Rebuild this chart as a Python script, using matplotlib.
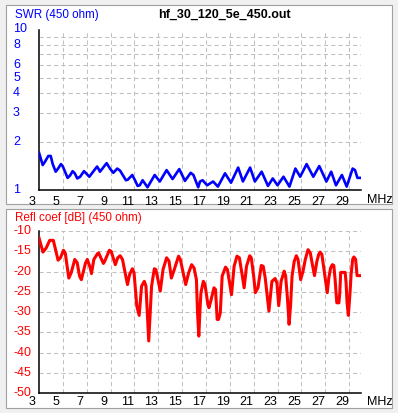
import matplotlib
matplotlib.use("Agg")
import matplotlib.pyplot as plt
from matplotlib.patches import Rectangle
from matplotlib.ticker import NullLocator

W, H = 398, 413

# SWR (450 ohm)
swr_freq = [3.0, 3.31, 3.5, 3.78, 3.98, 4.15, 4.4, 4.6, 4.84, 5.0, 5.4, 5.6, 5.82, 6.0,
            6.21, 6.45, 6.77, 6.95, 7.22, 7.87, 8.0, 8.11, 8.67, 8.95, 9.23, 9.56, 9.8,
            10.29, 10.45, 10.82, 11.05, 11.27, 11.45, 11.69, 12.1, 12.7, 13.13, 13.7,
            14.2, 14.76, 15.24, 15.72, 15.95, 16.35, 16.5, 16.72, 17.1, 17.6, 18.0,
            18.6, 19.1, 19.7, 20.1, 20.7, 21.1, 21.67, 22.2, 22.6, 23.0, 23.5, 24.0,
            24.5, 24.9, 25.44, 26.0, 26.5, 27.1, 27.5, 27.9, 28.4, 28.8, 29.3, 29.5,
            29.7, 29.97]
swr = [1.71, 1.43, 1.50, 1.63, 1.63, 1.45, 1.30, 1.36, 1.45, 1.40, 1.19, 1.23, 1.31, 1.27,
       1.18, 1.21, 1.31, 1.27, 1.21, 1.40, 1.35, 1.30, 1.47, 1.36, 1.28, 1.36, 1.32,
       1.15, 1.16, 1.24, 1.15, 1.06, 1.07, 1.15, 1.04, 1.24, 1.13, 1.33,
       1.17, 1.35, 1.14, 1.28, 1.24, 1.04, 1.13, 1.15, 1.07, 1.13, 1.05,
       1.27, 1.11, 1.38, 1.13, 1.38, 1.13, 1.30, 1.06, 1.18, 1.07, 1.21, 1.05,
       1.36, 1.21, 1.45, 1.21, 1.41, 1.13, 1.30, 1.07, 1.24, 1.05, 1.36, 1.33,
       1.19, 1.19]

# reflection coefficient [dB]
refl_freq = [3.0, 3.33, 3.6, 3.9, 4.2, 4.6, 4.8, 5.05, 5.2, 5.5, 5.7, 6.0, 6.2, 6.4, 6.55,
             6.9, 7.05, 7.3, 7.4, 7.6, 7.9, 8.0, 8.4, 8.5, 8.9, 9.05, 9.4, 9.6, 9.8, 10.0,
             10.2, 10.42, 10.6, 10.83, 10.97, 11.2, 11.4, 11.6, 11.83, 11.97, 12.1, 12.2,
             12.36, 12.44, 12.67, 12.8, 13.0, 13.17, 13.4, 13.7, 13.9, 14.1, 14.3, 14.7,
             14.85, 15.3, 15.55, 15.8, 16.0, 16.2, 16.3, 16.4, 16.5, 16.58, 16.78, 16.92,
             17.14, 17.25, 17.4, 17.67, 17.8, 17.94, 18.05, 18.2, 18.36, 18.64, 18.8,
             19.14, 19.36, 19.6, 19.8, 20.03, 20.2, 20.4, 20.67, 20.8, 21.0, 21.14, 21.36,
             21.64, 21.8, 21.97, 22.28, 22.53, 22.8, 22.95, 23.1, 23.3, 23.56, 23.68,
             23.83, 23.97, 24.1, 24.22, 24.4, 24.58, 24.72, 24.94, 25.14, 25.33, 25.56,
             25.75, 25.9, 26.1, 26.3, 26.45, 26.58, 26.72, 26.9, 27.03, 27.17, 27.3,
             27.45, 27.6, 27.72, 27.83, 27.97, 28.15, 28.22, 28.3, 28.67, 28.75, 28.83,
             28.94, 29.08, 29.17, 29.3, 29.4, 29.55, 29.67, 29.97]
refl_db = [-11.7, -15.2, -14.2, -12.3, -12.3, -17.2, -16.6, -14.75, -15.4, -21.6, -20.3,
           -17.0, -17.8, -21.1, -22.0, -17.9, -17.0, -19.1, -20.5, -17.0, -15.6, -15.4,
           -18.0, -17.5, -14.75, -15.0, -18.3, -16.6, -16.1, -17.0, -19.9, -23.2, -20.7,
           -19.3, -20.3, -28.5, -30.8, -23.6, -22.4, -23.6, -31.0, -37.1, -28.1, -23.6,
           -19.3, -19.5, -22.4, -24.8, -19.5, -16.6, -17.4, -21.6, -19.9, -16.2, -17.0,
           -23.2, -20.3, -18.3, -19.1, -22.0, -30.6, -35.9, -29.3, -25.2, -22.4, -23.2,
           -27.7, -28.9, -27.3, -24.0, -24.4, -31.8, -31.8, -30.2, -21.1, -18.9, -19.5,
           -25.7, -18.7, -16.2, -16.6, -20.7, -24.0, -18.7, -16.1, -16.6, -21.1, -25.2,
           -24.0, -18.5, -18.7, -21.6, -29.75, -22.4, -21.7, -22.8, -28.4, -22.4, -19.9,
           -21.1, -26.5, -33.0, -28.1, -21.1, -17.5, -16.1, -17.0, -22.0, -19.9, -17.0,
           -14.6, -15.4, -17.9, -21.0, -17.5, -15.8, -15.2, -15.8, -19.5, -22.0, -25.2,
           -21.6, -19.1, -18.3, -18.5, -22.0, -27.7, -27.7, -25.2, -20.2, -20.2, -22.8,
           -27.7, -30.8, -25.2, -20.7, -17.0, -16.4, -17.0, -21.0, -21.0]

x_ticks = [3, 5, 7, 9, 11, 13, 15, 17, 19, 21, 23, 25, 27, 29]
swr_ticks = [1, 2, 3, 4, 5, 6, 8, 10]
swr_grid = [2, 3, 4, 5, 6, 7, 8, 9]
db_ticks = [-10, -15, -20, -25, -30, -35, -40, -45, -50]

FONT = "Liberation Sans"
TICK_FS = 9
GRID = dict(color="#c0c0c0", lw=0.75, ls=(0, (4, 3)), zorder=1)


def fx(px):
    return px / W


def fy(py):
    return 1 - py / H


fig = plt.figure(figsize=(W / 100, H / 100), dpi=100, facecolor="#f0f0f0")

# white panels with thin sunken border
for top, bottom in [(5, 204), (209, 408)]:
    fig.patches.append(Rectangle((fx(6), fy(bottom)), fx(392) - fx(6), fy(top) - fy(bottom),
                                 transform=fig.transFigure, facecolor="white",
                                 edgecolor="#a0a0a0", lw=0.8, zorder=-5))

ax1 = fig.add_axes([fx(39), fy(190), fx(361) - fx(39), fy(29.5) - fy(190)])
ax2 = fig.add_axes([fx(39), fy(393.3), fx(361) - fx(39), fy(231) - fy(393.3)])


def style(ax, yticks, ylabels, ycolor):
    ax.set_facecolor("none")
    ax.set_xlim(3, 30)
    for s in ["top", "right"]:
        ax.spines[s].set_visible(False)
    for s in ["left", "bottom"]:
        ax.spines[s].set_color("black")
        ax.spines[s].set_linewidth(1.1)
    ax.set_xticks([])
    ax.set_yticks([])
    ax.yaxis.set_minor_locator(NullLocator())
    for f in x_ticks:
        if f > 3:
            ax.axvline(f, **GRID)
    for v, lab in zip(yticks, ylabels):
        ax.annotate(lab, xy=(0, v), xycoords=("axes fraction", "data"),
                    xytext=(-18.7, 0), textcoords="offset points", ha="left", va="center",
                    color=ycolor, fontsize=TICK_FS, family=FONT, annotation_clip=False)


# top: SWR
ax1.set_yscale("log")
ax1.set_ylim(1, 10)
style(ax1, swr_ticks, [str(v) for v in swr_ticks], "#0000ff")
for v in swr_grid:
    ax1.axhline(v, **GRID)
ax1.plot(swr_freq, swr, color="#0000ff", lw=1.9, zorder=3, solid_joinstyle="round")
for f in x_ticks:
    ax1.annotate(str(f), xy=(f, 0), xycoords=("data", "axes fraction"),
                 xytext=(-5, -4), textcoords="offset points", ha="center", va="top",
                 fontsize=TICK_FS, family=FONT, annotation_clip=False)

# bottom: reflection coefficient
ax2.set_ylim(-50, -10)
style(ax2, db_ticks, [str(v) for v in db_ticks], "#ff0000")
for v in db_ticks[:-1]:
    ax2.axhline(v, **GRID)
ax2.plot(refl_freq, refl_db, color="#ff0000", lw=2.2, zorder=3, solid_joinstyle="round")
for f in x_ticks:
    ax2.annotate(str(f), xy=(f, 0), xycoords=("data", "axes fraction"),
                 xytext=(-5, -2.2), textcoords="offset points", ha="center", va="top",
                 fontsize=TICK_FS, family=FONT, annotation_clip=False)

fig.text(fx(15), fy(15), "SWR (450 ohm)", color="#0000ff", fontsize=8.4, family=FONT,
         ha="left", va="center")
fig.text(fx(224), fy(15), "hf_30_120_5e_450.out", color="black", fontsize=9,
         fontweight="bold", family=FONT, ha="center", va="center")
fig.text(fx(15), fy(218), "Refl coef [dB] (450 ohm)", color="#ff0000", fontsize=8.4,
         family=FONT, ha="left", va="center")
fig.text(fx(380), fy(200), "MHz", fontsize=TICK_FS, family=FONT, ha="center", va="center")
fig.text(fx(380), fy(402), "MHz", fontsize=TICK_FS, family=FONT, ha="center", va="center")

fig.savefig("out.png", dpi=100, facecolor=fig.get_facecolor())
